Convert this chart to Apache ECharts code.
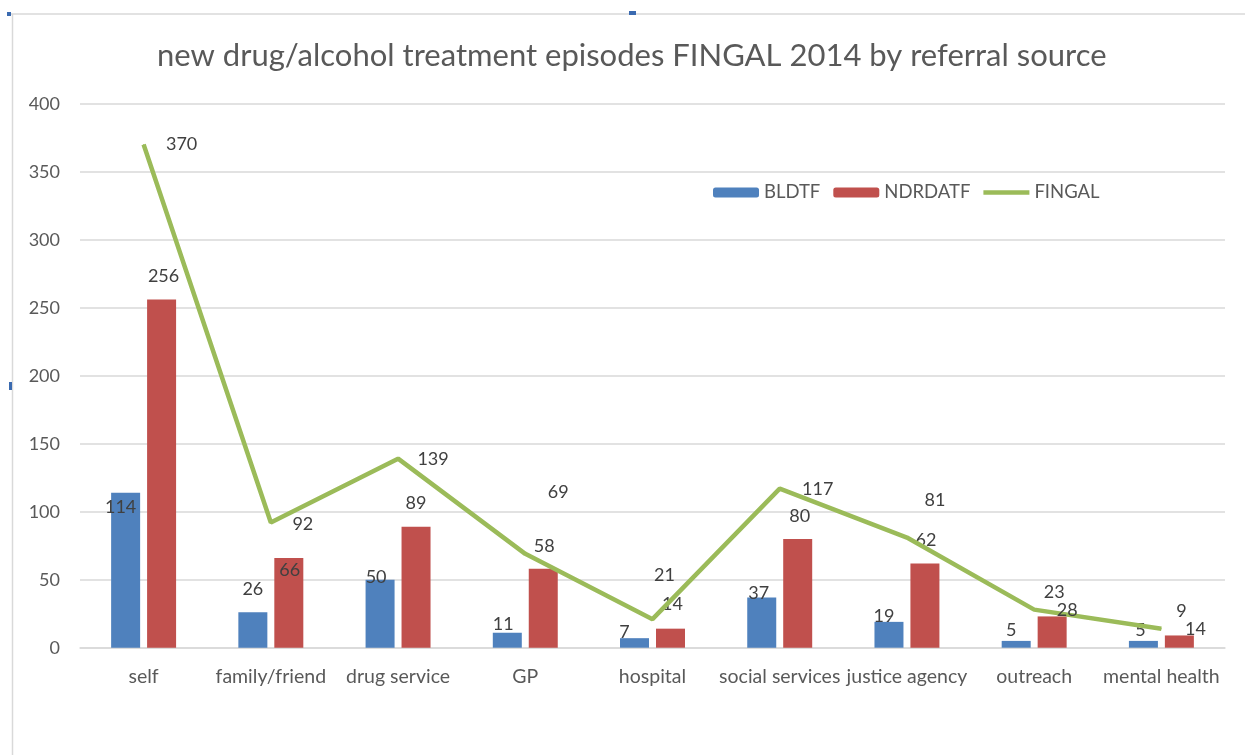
<!DOCTYPE html>
<html>
<head>
<meta charset="utf-8">
<script src="https://cdn.jsdelivr.net/npm/echarts@6/dist/echarts.min.js"></script>
<style>
html,body{margin:0;padding:0;background:#fff;}
#c{width:1245px;height:755px;}
</style>
</head>
<body>
<div id="c"></div>
<script>
const categories = ['self','family/friend','drug service','GP','hospital','social services','justice agency','outreach','mental health'];
const bldtf   = [114, 26, 50, 11, 7, 37, 19, 5, 5];
const ndrdatf = [256, 66, 89, 58, 14, 80, 62, 23, 9];
const fingal  = [370, 92, 139, 69, 21, 117, 81, 28, 14];
const yTicks = {min: 0, max: 400, interval: 50};

// label placement (offsets from bar top / line point), as in the reference
const bldtfLabelOffsets   = [[-5,15],[0,-23],[-4,-3],[-4,-9],[-10,-6],[-3,-4],[-5,-6],[-5,-11],[-3,-11]];
const ndrdatfLabelOffsets = [[2,-23],[1,12],[0,-23],[1,-23],[2,-24],[2,-23],[1,-23],[2,-24],[2,-24]];
const fingalLabelOffsets  = [[38,0],[32,2],[35,1],[33,-62],[12,-44],[38,1],[28,-37],[33,1],[34,1]];

const FONT = 'Lato';
const chart = echarts.init(document.getElementById('c'), null, {renderer:'canvas'});

function withOffsets(vals, offs){
  return vals.map((v,i)=>({value:v, label:{offset:offs[i]}}));
}

chart.setOption({
  animation:false,
  backgroundColor:'#ffffff',
  textStyle:{fontFamily:FONT},
  title:{
    text:'new drug/alcohol treatment episodes FINGAL 2014 by referral source',
    left:152, top:35,
    textStyle:{fontFamily:FONT, fontSize:31, fontWeight:'normal', color:'#595959'}
  },
  legend:{
    left:708, top:178,
    itemWidth:46, itemHeight:10, itemGap:13,
    textStyle:{fontFamily:FONT, fontSize:18.5, color:'#595959'},
    data:['BLDTF','NDRDATF',{name:'FINGAL', icon:'path://M0 0 H50 V5 H0 Z'}]
  },
  grid:{left:80, right:20, top:103.7, bottom:107.3, containLabel:false},
  xAxis:{
    type:'category', data:categories,
    axisTick:{show:false},
    axisLine:{lineStyle:{color:'#d9d9d9', width:1.5}},
    axisLabel:{fontFamily:FONT, fontSize:19.5, color:'#595959', margin:19, interval:0}
  },
  yAxis:{
    type:'value', min:yTicks.min, max:yTicks.max, interval:yTicks.interval,
    axisLine:{show:false}, axisTick:{show:false},
    splitLine:{lineStyle:{color:'#d9d9d9', width:1.5}},
    axisLabel:{fontFamily:FONT, fontSize:18, color:'#595959', margin:20}
  },
  graphic:[
    {type:'line', shape:{x1:10, y1:14, x2:1245, y2:14}, style:{stroke:'#d9d9d9', lineWidth:1.5}, silent:true},
    {type:'line', shape:{x1:12.5, y1:14, x2:12.5, y2:755}, style:{stroke:'#d9d9d9', lineWidth:1.5}, silent:true},
    {type:'rect', shape:{x:7, y:12, width:4, height:4}, style:{fill:'#3a6ab0'}, silent:true},
    {type:'rect', shape:{x:629, y:11, width:7, height:4}, style:{fill:'#3a6ab0'}, silent:true},
    {type:'rect', shape:{x:9, y:382, width:3, height:8}, style:{fill:'#3a6ab0'}, silent:true}
  ],
  series:[
    {
      name:'BLDTF', type:'bar', data:withOffsets(bldtf, bldtfLabelOffsets),
      barWidth:29, barGap:'24%',
      itemStyle:{color:'#4F81BD'},
      label:{show:true, position:'top', distance:0, align:'center', verticalAlign:'middle',
             fontFamily:FONT, fontSize:18, color:'#404040'}
    },
    {
      name:'NDRDATF', type:'bar', data:withOffsets(ndrdatf, ndrdatfLabelOffsets),
      barWidth:29, barGap:'24%',
      itemStyle:{color:'#C0504D'},
      label:{show:true, position:'top', distance:0, align:'center', verticalAlign:'middle',
             fontFamily:FONT, fontSize:18, color:'#404040'}
    },
    {
      name:'FINGAL', type:'line', data:withOffsets(fingal, fingalLabelOffsets),
      symbol:'circle', symbolSize:1, showSymbol:true,
      lineStyle:{color:'#9BBB59', width:4.5},
      itemStyle:{color:'#9BBB59'},
      label:{show:true, position:'inside', align:'center', verticalAlign:'middle',
             fontFamily:FONT, fontSize:18, color:'#404040'},
      z:3
    }
  ]
});
</script>
</body>
</html>
